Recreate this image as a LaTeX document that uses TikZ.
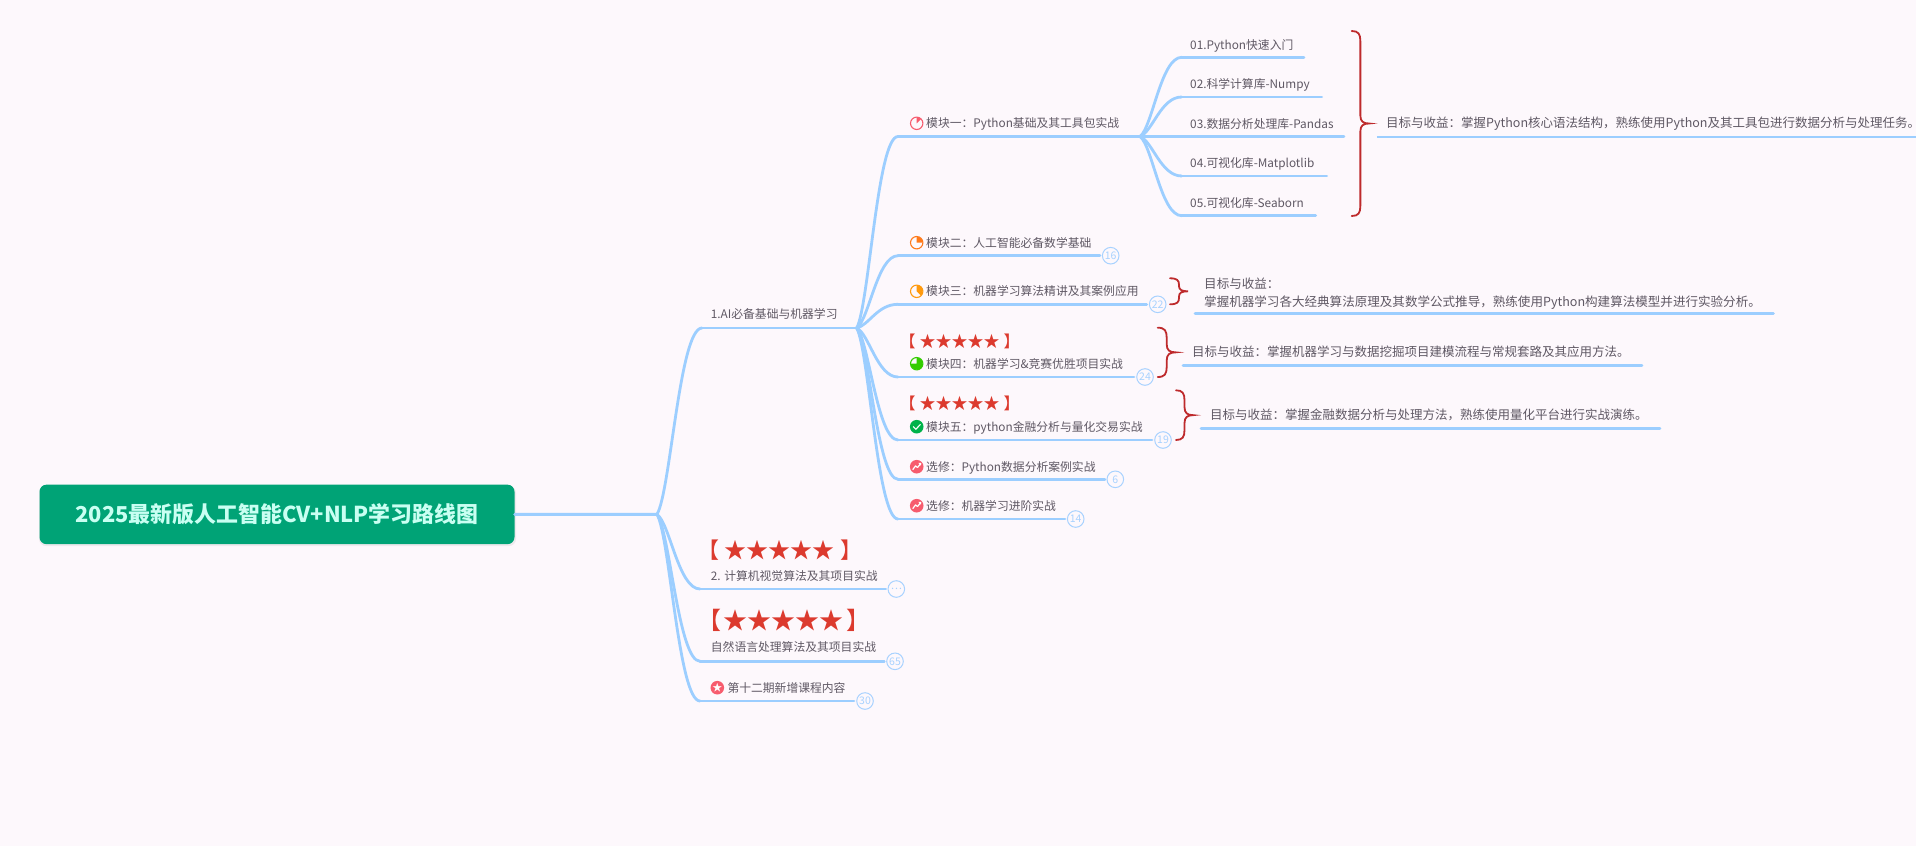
\documentclass[tikz,border=0pt]{standalone}
\usepackage{fontspec}
\setmainfont{Noto Sans CJK SC}
\usetikzlibrary{calc}
\definecolor{bgc}{HTML}{FDF8FC}
\definecolor{linkc}{HTML}{9CCEFF}
\definecolor{txtc}{HTML}{5F5864}
\definecolor{rootc}{HTML}{00A376}
\definecolor{roottxt}{HTML}{C9FFF2}
\definecolor{starc}{HTML}{DC3A2E}
\definecolor{bracec}{HTML}{BE2A2C}
\definecolor{badgec}{HTML}{A8D2FF}
\definecolor{pinkc}{HTML}{F75C6E}
\definecolor{orc}{HTML}{FF7A1A}
\definecolor{yelc}{HTML}{FF9A0E}
\definecolor{grnc}{HTML}{33CC00}
\definecolor{chkc}{HTML}{00B24A}
\tikzset{
  link/.style={draw=linkc,line width=2.8pt,line cap=round},
  lab/.style={anchor=west,inner sep=0pt,text=txtc,font=\fontsize{11.8}{18}\selectfont,text height=11pt,text depth=2pt},
  note/.style={anchor=west,inner sep=0pt,text=txtc,font=\fontsize{12.5}{18}\selectfont,text height=11pt,text depth=2pt},
  notetwo/.style={anchor=west,inner sep=0pt,text=txtc,font=\fontsize{12.55}{18}\selectfont,align=left},
  badge/.style={circle,draw=badgec,line width=1pt,fill=bgc,minimum size=16.6pt,inner sep=0pt,text=badgec,font=\fontsize{10.5}{10.5}\selectfont},
  stars/.style={inner sep=0pt,text=starc},
  bracepen/.style={draw=bracec,line width=1.8pt,line cap=round},
}
\newcommand\curvelink[2]{\draw[link] let \p1=(#1),\p2=(#2) in (#1) .. controls ({\x1+.3*(\x2-\x1)},{\y1+.12*(\y2-\y1)}) and ({\x1+.5*(\x2-\x1)},\y2) .. (#2);}
\newcommand\starrow[1]{【\hspace{#1em}★★★★★\hspace{#1em}】}
\newcommand\bracemark[4]{%
  \pgfmathsetmacro\xm{(#1+#3)/2}\pgfmathsetmacro\ym{(#2+#4)/2}\pgfmathsetmacro\rr{min(10,(#4-#2)/4)}%
  \draw[bracepen] (#1,#2) .. controls (\xm-2,#2) and (\xm,#2+\rr*.3) .. (\xm,#2+\rr) -- (\xm,\ym-\rr*.8)
    .. controls (\xm,\ym-\rr*.2) and (\xm+3,\ym) .. (#3,\ym)
    .. controls (\xm+3,\ym) and (\xm,\ym+\rr*.2) .. (\xm,\ym+\rr*.8) -- (\xm,#4-\rr)
    .. controls (\xm,#4-\rr*.3) and (\xm-2,#4) .. (#1,#4);}
\newcommand\pieicon[3]{% coordinate, colour, angle span
  \fill[bgc] (#1) circle[radius=6.5pt];
  \draw[#2,line width=1.1pt] (#1) circle[radius=6.2pt];
  \fill[#2] (#1) -- ++(90:6pt) arc[start angle=90,delta angle=-#3,radius=6pt] -- cycle;}
\newcommand\trendicon[1]{%
  \fill[pinkc] (#1) circle[radius=6.8pt];
  \draw[white,line width=1.2pt,line join=round] ($(#1)+(-4pt,-3pt)$) -- ($(#1)+(-1.2pt,0.8pt)$) -- ($(#1)+(0.8pt,-0.8pt)$) -- ($(#1)+(3.8pt,2.8pt)$);
  \fill[white] ($(#1)+(4.6pt,3.8pt)$) -- ++(-3pt,0pt) -- ++(2.6pt,-2.8pt) -- cycle;}
\begin{document}
\begin{tikzpicture}[x=1pt,y=-1pt]
\path[fill=bgc] (0,0) rectangle (1916,846);
\useasboundingbox (0,0) rectangle (1916,846);
% coordinates
\coordinate (j0) at (657,514.3);
\coordinate (j1) at (856.7,328);
\coordinate (j11) at (1140,136.5);
% root
\fill[black,opacity=.06,rounded corners=7pt] (39,486) rectangle (516,546);
\node[fill=rootc,rounded corners=7pt,minimum width=475pt,minimum height=59.5pt,inner sep=0pt,text=roottxt,font=\fontsize{21.9}{24}\selectfont\bfseries] (root) at (277,514.4) {2025最新版人工智能CV+NLP学习路线图};
\draw[link,line width=3pt] (root.east) -- (j0);
% top branches
\coordinate (b1s) at (702,328);
\coordinate (b2s) at (700,589);
\coordinate (b2e) at (885.7,589);
\coordinate (b3s) at (700,661.3);
\coordinate (b3e) at (884.3,661.3);
\coordinate (b4s) at (700,701);
\coordinate (b4e) at (854,701);
\curvelink{j0}{b1s}
\curvelink{j0}{b2s}
\curvelink{j0}{b3s}
\curvelink{j0}{b4s}
\draw[link] (b1s) -- (j1);
\draw[link] (b2s) -- (b2e);
\draw[link] (b3s) -- (b3e);
\draw[link] (b4s) -- (b4e);
\node[lab] (t1) at (710.7,314.3) {1.AI必备基础与机器学习};
\node[stars,font=\fontsize{22}{24}\selectfont] (s2) at (779.5,549.7) {\starrow{.25}};
\node[lab] (t2) at (710.7,575.7) {2. 计算机视觉算法及其项目实战};
\node[badge] (bd2) at (896.3,589) {⋯};
\node[stars,font=\fontsize{24}{26}\selectfont] (s3) at (784,620.7) {\starrow{.12}};
\node[lab] (t3) at (710.7,647.3) {自然语言处理算法及其项目实战};
\node[badge] (bd3) at (895,661.3) {65};
\coordinate (icn) at (717.3,687.7);
\fill[pinkc] (icn) circle[radius=6.8pt];
\node[inner sep=0pt,text=white,font=\fontsize{10}{10}\selectfont] (icnstar) at (icn) {★};
\node[lab] (t4) at (727.3,687.7) {第十二期新增课程内容};
\node[badge] (bd4) at (865,701) {30};
% modules
\coordinate (m1s) at (898,136.5);
\coordinate (m2s) at (898,255.7);
\coordinate (m2e) at (1100,255.7);
\coordinate (m3s) at (898,304.3);
\coordinate (m3e) at (1146.7,304.3);
\coordinate (m4s) at (898,377);
\coordinate (m4e) at (1134,377);
\coordinate (m5s) at (898,440);
\coordinate (m5e) at (1152,440);
\coordinate (m6s) at (898,479.3);
\coordinate (m6e) at (1105,479.3);
\coordinate (m7s) at (898,519);
\coordinate (m7e) at (1065,519);
\curvelink{j1}{m1s}
\curvelink{j1}{m2s}
\curvelink{j1}{m3s}
\curvelink{j1}{m4s}
\curvelink{j1}{m5s}
\curvelink{j1}{m6s}
\curvelink{j1}{m7s}
\draw[link] (m1s) -- (j11);
\draw[link] (m2s) -- (m2e);
\draw[link] (m3s) -- (m3e);
\draw[link] (m4s) -- (m4e);
\draw[link] (m5s) -- (m5e);
\draw[link] (m6s) -- (m6e);
\draw[link] (m7s) -- (m7e);
% module 1 children
\coordinate (c1s) at (1181.7,57.3);
\coordinate (c1e) at (1304,57.3);
\coordinate (c2s) at (1181.7,97);
\coordinate (c2e) at (1321.7,97);
\coordinate (c3e) at (1344,136.5);
\coordinate (c4s) at (1181.7,176);
\coordinate (c4e) at (1326.7,176);
\coordinate (c5s) at (1181.7,215.7);
\coordinate (c5e) at (1315.7,215.7);
\curvelink{j11}{c1s}
\curvelink{j11}{c2s}
\curvelink{j11}{c4s}
\curvelink{j11}{c5s}
\draw[link] (c1s) -- (c1e);
\draw[link] (c2s) -- (c2e);
\draw[link] (j11) -- (c3e);
\draw[link] (c4s) -- (c4e);
\draw[link] (c5s) -- (c5e);
\node[lab] (c1) at (1190,44.7) {01.Python快速入门};
\node[lab] (c2) at (1190,84) {02.科学计算库-Numpy};
\node[lab] (c3) at (1190,124) {03.数据分析处理库-Pandas};
\node[lab] (c4) at (1190,163) {04.可视化库-Matplotlib};
\node[lab] (c5) at (1190,203) {05.可视化库-Seaborn};
% module labels and icons
\coordinate (i1) at (916.7,123.3);
\coordinate (i2) at (916.7,242.7);
\coordinate (i3) at (916.7,291.3);
\coordinate (i4) at (916.7,363.7);
\coordinate (i5) at (916.7,426.7);
\coordinate (i6) at (916.7,466.7);
\coordinate (i7) at (916.7,505.7);
\pieicon{i1}{pinkc}{45}
\pieicon{i2}{orc}{90}
\pieicon{i3}{yelc}{135}
\pieicon{i4}{grnc}{270}
\fill[chkc] (i5) circle[radius=6.8pt];
\draw[white,line width=1.1pt] ($(i5)+(-3.5pt,0.2pt)$) -- ($(i5)+(-0.8pt,-2.5pt)$) -- ($(i5)+(3.8pt,2.4pt)$);
\trendicon{i6}
\trendicon{i7}
\node[lab] (l1) at (926,123.3) {模块一：Python基础及其工具包实战};
\node[lab] (l2) at (926,242.7) {模块二：人工智能必备数学基础};
\node[lab] (l3) at (926,291.3) {模块三：机器学习算法精讲及其案例应用};
\node[lab] (l4) at (926,363.7) {模块四：机器学习\makebox[8pt]{\symbol{38}}竞赛优胜项目实战};
\node[lab] (l5) at (926,426.7) {模块五：python金融分析与量化交易实战};
\node[lab] (l6) at (926,466.7) {选修：Python数据分析案例实战};
\node[lab] (l7) at (926,505.7) {选修：机器学习进阶实战};
\node[stars,font=\fontsize{16}{18}\selectfont] (s4) at (959.7,341.2) {\starrow{.25}};
\node[stars,font=\fontsize{16}{18}\selectfont] (s5) at (959.7,403.8) {\starrow{.25}};
\node[badge] (bm2) at (1110.7,255.7) {16};
\node[badge] (bm3) at (1157.7,304.3) {22};
\node[badge] (bm4) at (1145,377) {24};
\node[badge] (bm5) at (1163,440) {19};
\node[badge] (bm6) at (1115.3,479.3) {6};
\node[badge] (bm7) at (1075.7,519) {14};
% braces
\bracemark{1351.7}{31}{1369}{216}
\bracemark{1170}{278.3}{1188}{304.3}
\bracemark{1157.7}{327.7}{1175.7}{377}
\bracemark{1176}{390.3}{1193}{440}
% summaries
\coordinate (n1s) at (1376.8,137);
\coordinate (n1e) at (1916,137);
\coordinate (n2s) at (1195,313.7);
\coordinate (n2e) at (1773.4,313.7);
\coordinate (n3s) at (1183,365.7);
\coordinate (n3e) at (1642,365.7);
\coordinate (n4s) at (1201,428.3);
\coordinate (n4e) at (1660,428.3);
\draw[link,line cap=butt] (n1s) -- (n1e);
\draw[link] (n2s) -- (n2e);
\draw[link] (n3s) -- (n3e);
\draw[link] (n4s) -- (n4e);
\node[note] (n1) at (1386,123) {目标与收益：掌握Python核心语法结构，熟练使用Python及其工具包进行数据分析与处理任务。};
\node[notetwo] (n2) at (1204,293.5) {目标与收益：\\掌握机器学习各大经典算法原理及其数学公式推导，熟练使用Python构建算法模型并进行实验分析。};
\node[note] (n3) at (1192,352.3) {目标与收益：掌握机器学习与数据挖掘项目建模流程与常规套路及其应用方法。};
\node[note] (n4) at (1210,415) {目标与收益：掌握金融数据分析与处理方法，熟练使用量化平台进行实战演练。};
\end{tikzpicture}
\end{document}
